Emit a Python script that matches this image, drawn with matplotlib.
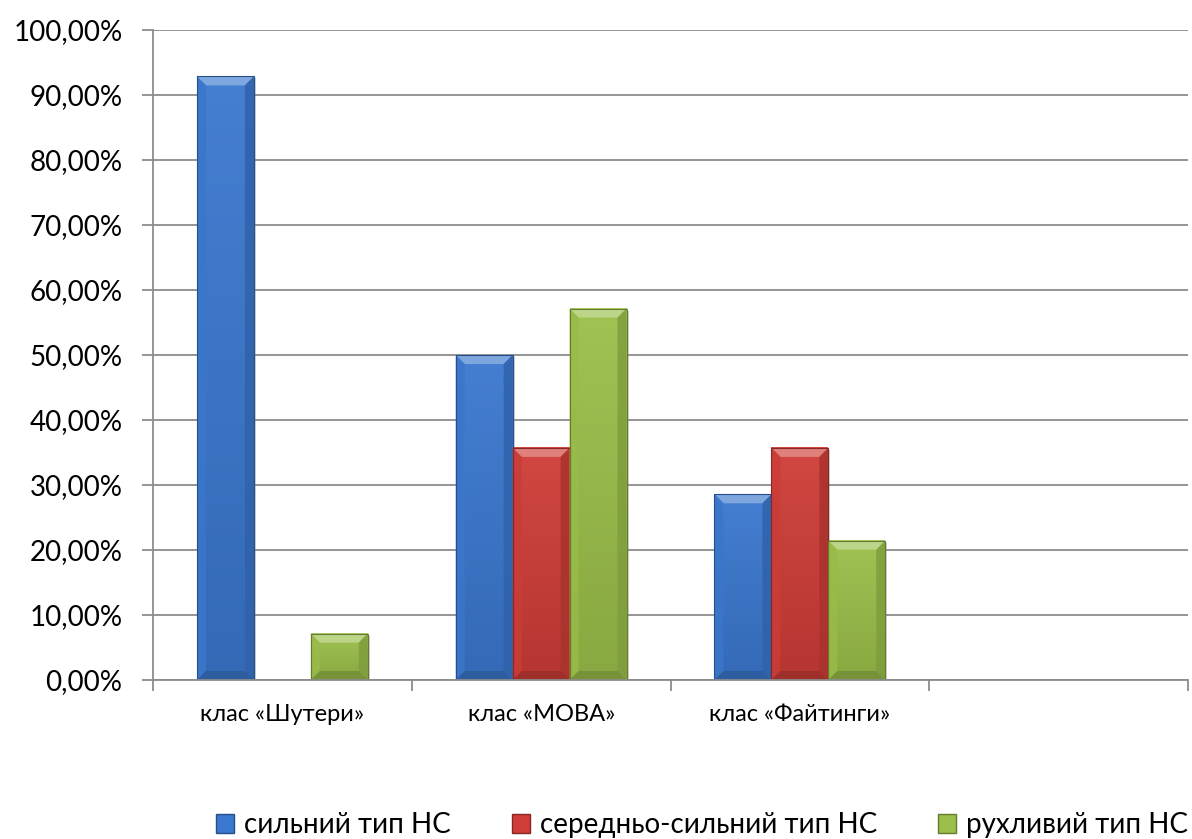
import numpy as np
import matplotlib.pyplot as plt
from matplotlib.patches import Polygon, Patch, Rectangle
from matplotlib.colors import to_rgb

categories = ['клас «Шутери»', 'клас «MOBA»', 'клас «Файтинги»', '']
series = ['сильний тип НС', 'середньо-сильний тип НС', 'рухливий тип НС']
strong = [92.86, 50.00, 28.57, 0]
medium = [0, 35.71, 35.71, 0]
mobile = [7.14, 57.14, 21.43, 0]
colors = ['#3b78cf', '#cf3d38', '#9bbf4a']
yticks = np.arange(0, 101, 10)

plt.rcParams['font.family'] = ['Lato', 'DejaVu Sans']

W, H = 1192, 839
fig = plt.figure(figsize=(W / 100, H / 100), dpi=100)
left, right, top, bottom = 153, 1188, 30, 680
ax = fig.add_axes([left / W, 1 - bottom / H, (right - left) / W, (bottom - top) / H])

ncat = len(categories)
bar_w = 0.22
# data units per pixel, used for the bevel size
ux = ncat / (right - left)
uy = 100 / (bottom - top)


def mix(c, other, t):
    return np.clip((1 - t) * np.asarray(c, float) + t * np.asarray(other, float), 0, 1)


def bevel_bar(x0, h, color):
    if h <= 0:
        return
    x1 = x0 + bar_w
    base = np.array(to_rgb(color))
    white, black = (1, 1, 1), (0, 0, 0)
    bx = 9 * ux
    by = min(9 * uy, h / 2)
    # soft drop shadow
    ax.add_patch(Rectangle((x0 + 2 * ux, -2 * uy), bar_w, h, color='0.5', alpha=0.35,
                           lw=0, zorder=2.5))
    # body with vertical gradient
    grad = np.linspace(1.0, 0.0, 64)[:, None]
    img = (1 - grad) * mix(base, black, 0.12)[None, :] + grad * mix(base, white, 0.05)[None, :]
    img = img[:, None, :]
    ax.imshow(img, extent=(x0, x1, 0, h), aspect='auto', zorder=3, interpolation='bilinear')
    facets = [
        ([(x0, h), (x1, h), (x1 - bx, h - by), (x0 + bx, h - by)], mix(base, white, 0.4)),
        ([(x0, 0), (x0, h), (x0 + bx, h - by), (x0 + bx, by)], mix(base, black, 0.02)),
        ([(x1, 0), (x1, h), (x1 - bx, h - by), (x1 - bx, by)], mix(base, black, 0.18)),
        ([(x0, 0), (x1, 0), (x1 - bx, by), (x0 + bx, by)], mix(base, black, 0.25)),
    ]
    for pts, c in facets:
        ax.add_patch(Polygon(pts, closed=True, facecolor=c, edgecolor='none', zorder=3.2,
                             alpha=0.85))
    ax.add_patch(Rectangle((x0, 0), bar_w, h, facecolor='none',
                           edgecolor=mix(base, black, 0.35), lw=0.8, zorder=3.4))


for j, (vals, col) in enumerate(zip([strong, medium, mobile], colors)):
    for i, v in enumerate(vals):
        x0 = i + 0.5 + (j - 1.5) * bar_w
        bevel_bar(x0, v, col)

ax.set_xlim(0, ncat)
ax.set_ylim(0, 100)

# gridlines and axes
ax.set_yticks(yticks)
ax.set_yticklabels([f'{v:.2f}%'.replace('.', ',') for v in yticks])
ax.yaxis.grid(True, color='#8c8c8c', lw=1.3)
ax.set_axisbelow(True)
for s in ['top', 'right']:
    ax.spines[s].set_visible(False)
for s in ['left', 'bottom']:
    ax.spines[s].set_color('#8c8c8c')
    ax.spines[s].set_linewidth(1.3)
    ax.spines[s].set_zorder(4)

ax.set_xticks(np.arange(ncat + 1))
ax.set_xticklabels([])
ax.set_xticks(np.arange(ncat) + 0.5, minor=True)
ax.set_xticklabels(categories, minor=True)
ax.tick_params(axis='x', which='major', length=8, width=1.3, color='#8c8c8c')
ax.tick_params(axis='x', which='minor', length=0, pad=17, labelsize=17)
ax.tick_params(axis='y', length=8, width=1.3, color='#8c8c8c', labelsize=20, pad=14)

handles = [Patch(facecolor=c, edgecolor=mix(to_rgb(c), (0, 0, 0), 0.35)) for c in colors]
fig.legend(handles, series, loc='center', bbox_to_anchor=(702 / W, 1 - 825 / H), ncol=3,
           frameon=False, fontsize=20, handlelength=0.65, handleheight=0.65,
           handletextpad=0.35, columnspacing=2.2)

fig.savefig('out.png', dpi=100)
